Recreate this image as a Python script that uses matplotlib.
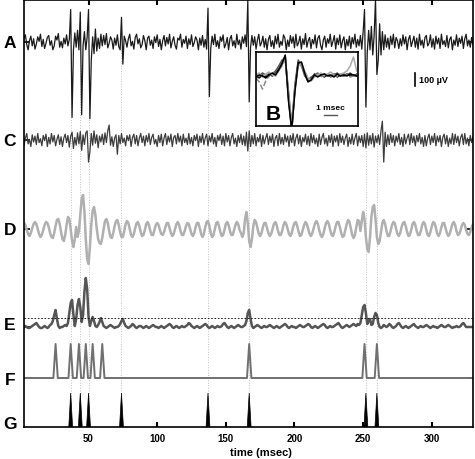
import numpy as np
import matplotlib.pyplot as plt

plt.rcParams['font.family'] = ['Liberation Sans', 'DejaVu Sans']

# raw trace A (uV), 1 ms samples from t = 1 to 330 msec
a_uv = [15, -40, 30, 55, -20, -60, 10, 45, -30, 25,
        -55, -15, 40, 5, 60, -35, 20, -50, -10, 35,
        50, -25, 10, -60, -30, 45, 15, 65, -40, 5,
        -45, 30, -15, 55, -30, 20, 250, -580, -60, 70,
        -40, 90, -60, 230, -560, -30, 80, -60, 40, 250,
        -590, -140, 40, -90, 100, -70, 30, -50, 60, -30,
        50, -20, 65, -45, -10, 40, 15, -55, 30, -25,
        55, -35, -60, 190, -170, 45, 10, -40, 25, 60,
        -30, 5, -55, 35, 60, -15, 25, -45, -20, 50,
        10, -60, 30, 45, -25, 15, -50, 40, -5, 55,
        -35, 20, -60, 10, 50, -30, 35, -15, 60, -45,
        5, 40, -25, -55, 30, 15, 60, -40, 20, -10,
        45, -50, 25, -20, 55, -35, -5, 40, 15, -60,
        30, -25, 50, -40, 20, -55, 260, -420, -50, 45,
        -20, 60, -35, 10, -50, 40, 5, 55, -45, -15,
        35, -60, 25, 50, -30, 10, -45, 60, -20, 15,
        -55, 40, -10, 55, -35, 320, -460, -40, 50, -25,
        40, -55, 15, 60, -30, -5, 45, -40, 25, -60,
        20, 50, -35, 10, -50, 45, -15, 60, -40, 5,
        -25, 55, 30, -60, 15, -35, 50, -10, 40, -45,
        60, -30, -5, 45, -55, 25, -20, 65, -40, 10,
        35, -50, 20, -15, 55, -45, 30, 50, -25, -60,
        15, 45, -40, 25, -10, 60, -35, 5, 50, -55,
        30, -20, 55, -45, 10, 40, -60, 20, -30, 45,
        -50, 35, -15, 60, -40, 20, -30, 50, -55, 80,
        250, -500, -80, 90, -60, 120, -100, 50, 330, -250,
        -140, 140, -100, 80, -60, 55, -40, 30, -55, 45,
        -20, 60, -45, 35, 10, -50, 25, -30, 55, -15,
        40, -60, 20, 50, -35, 5, 45, -40, 30, -55,
        60, -25, 15, -45, 35, 50, -30, -10, 55, -40,
        25, -55, 45, -15, 30, -50, 60, -20, 10, -35,
        50, -45, 20, 40, -60, 15, -25, 55, -35, 30,
        -10, 45, -50, 25, 60, -30, 15, -40, 35, -20]

# filtered trace C (uV)
c_uv = [-20, 35, -45, 15, 50, -30, 5, -50, 40, -15,
        30, -35, 50, -20, 10, -45, 35, -5, 45, -50,
        20, -30, 50, -15, 35, -45, 5, 40, -35, 25,
        -50, 15, 45, -20, 35, -55, 30, 60, -65, 20,
        -40, 55, -30, 65, -80, 40, -35, 55, 70, -170,
        -90, 50, -40, 70, -25, 40, -60, 30, -15, 45,
        -35, 55, -20, 70, 115, -40, 25, -50, 15, 40,
        -110, 35, -30, 50, -20, 15, -45, 35, -5, 40,
        -50, 20, 45, -30, 35, -45, 15, 50, -20, 30,
        -45, 35, -15, 50, -35, 20, 45, -30, 5, -50,
        35, -20, 45, -45, 15, 50, -35, 30, -15, 45,
        -50, 20, 35, -30, 50, -15, 30, -45, 45, -20,
        15, -35, 50, -30, 20, -45, 35, -5, 45, -50,
        30, -20, 50, -35, 15, 45, -45, 30, -15, 50,
        -30, 20, -50, 35, -5, 45, -35, 30, -45, 50,
        -15, 35, -45, 20, 50, -30, 15, -50, 35, -20,
        45, -35, 30, -45, 60, -85, 70, -50, 35, -30,
        50, -45, 20, -15, 45, -50, 35, -30, 15, 50,
        -35, 30, -20, 45, -50, 15, 35, -45, 50, -30,
        20, -35, 45, -15, 30, -50, 35, -20, 50, -45,
        15, 45, -30, 35, -50, 20, -15, 45, -35, 30,
        -45, 50, -20, 35, -30, 15, -50, 45, -35, 20,
        50, -30, 15, -45, 35, -20, 45, -50, 30, -15,
        35, -45, 50, -20, 30, -35, 15, 45, -50, 20,
        -30, 45, -35, 15, 50, -45, 30, -20, 35, -50,
        45, -60, 55, -40, 35, -30, 50, -55, 30, -20,
        40, -35, 70, 145, -170, 60, -50, 40, -35, 50,
        -20, 35, -45, 30, -15, 50, -35, 20, -50, 45,
        -30, 15, 45, -35, 50, -20, 30, -45, 35, -15,
        50, -30, 20, -50, 35, -45, 15, 45, -35, 30,
        -20, 50, -45, 30, -15, 35, -50, 20, 45, -30,
        35, -50, 15, -30, 50, -35, 45, -20, 30, -45,
        20, 45, -35, 50, -30, 15, -45, 35, -20, 30]

# band-pass output D (a.u.)
d_trace = [-2, 3, 6, 4, -1, -5, -7, -4, 1, 5,
           7, 5, 0, -5, -8, -6, -1, 4, 7, 6,
           2, -4, -8, -9, -4, 3, 9, 10, 5, -3,
           -10, -12, -6, 4, 12, 10, 0, -12, -18, -10,
           2, -8, -2, 14, 30, 34, 18, -10, -30, -35,
           -18, 4, 18, 22, 14, 0, -10, -14, -15, -9,
           0, 8, 10, 6, -2, -8, -9, -4, 3, 8,
           9, 4, -3, -8, -8, -2, 5, 8, 6, 0,
           -6, -8, -5, 1, 6, 7, 3, -3, -7, -6,
           -1, 5, 7, 4, -2, -6, -6, -1, 4, 6,
           4, -1, -5, -6, -3, 2, 6, 6, 1, -4,
           -7, -5, 0, 5, 7, 4, -2, -6, -6, -2,
           3, 6, 5, 0, -5, -7, -4, 2, 6, 6,
           1, -5, -8, -5, 2, 7, 8, 3, -4, -8,
           -6, 0, 6, 7, 3, -3, -7, -6, -1, 5,
           7, 4, -2, -6, -6, -1, 4, 7, 5, -1,
           -4, -8, -4, 10, 17, 6, -12, -18, -10, 3,
           9, 7, 1, -5, -7, -4, 2, 6, 6, 1,
           -4, -7, -5, 0, 5, 7, 4, -2, -6, -6,
           -2, 4, 7, 5, 0, -5, -7, -4, 2, 6,
           7, 3, -3, -7, -6, -1, 4, 7, 5, 0,
           -5, -7, -4, 1, 6, 8, 5, -1, -6, -8,
           -5, 1, 6, 8, 5, -1, -6, -7, -3, 3,
           7, 7, 2, -4, -8, -7, -1, 5, 9, 7,
           1, -6, -9, -6, 2, 9, 8, -2, 8, 17,
           10, -8, -20, -23, -8, 12, 22, 24, 10, -8,
           -15, -12, -3, 6, 9, 5, -2, -7, -7, -2,
           4, 7, 6, 0, -5, -7, -4, 2, 6, 7,
           3, -3, -7, -6, -1, 5, 7, 4, -2, -6,
           -6, -2, 4, 7, 5, -1, -6, -7, -3, 3,
           7, 6, 1, -5, -7, -4, 2, 6, 6, 1,
           -4, -7, -5, 0, 5, 7, 4, -2, -6, -5,
           -1, 4, 6, 4, -1, -5, -6, -3, 2, 5]

# energy trace E (a.u.) and its threshold
e_trace = [0, -1, 0, 1, 0, -1, -1, 0, 1, 2,
           3, 4, 2, 0, -1, -1, 0, 1, 0, -1,
           0, 2, 3, 6, 12, 17, 8, 1, -1, 0,
           0, 1, 2, 1, 4, 14, 24, 27, 12, 1,
           8, 22, 28, 20, 5, 12, 35, 49, 38, 10,
           1, 6, 10, 6, 1, 0, 2, 5, 9, 5,
           1, 0, -1, 0, 1, 2, 1, 0, -1, 0,
           0, 1, 3, 6, 8, 4, 1, 0, -1, 0,
           1, 3, 2, 0, -1, 0, 1, 1, 0, -1,
           0, 1, 0, -1, 0, 1, 2, 1, 0, 0,
           -1, 0, 1, 0, -1, 0, 1, 2, 3, 2,
           0, -1, 0, 1, 0, -1, 0, 1, 0, 0,
           1, 2, 4, 3, 1, 0, -1, 0, 1, 0,
           -1, 0, 1, 2, 3, 2, 0, -1, 0, 1,
           0, -1, 0, 1, 0, 0, 1, 3, 4, 2,
           0, -1, 0, 1, 0, -1, 0, 1, 2, 1,
           0, 0, 1, 2, 6, 14, 17, 8, 1, -1,
           0, 1, 2, 1, 0, -1, 0, 1, 0, 0,
           1, 2, 1, 0, -1, 0, 1, 0, -1, 0,
           1, 2, 3, 2, 0, -1, 0, 1, 0, 0,
           -1, 0, 1, 2, 1, 0, 0, 1, 2, 3,
           2, 0, -1, 0, 1, 0, -1, 0, 1, 2,
           3, 2, 0, -1, 0, 1, 0, 0, 1, 2,
           3, 4, 2, 0, -1, 0, 1, 2, 1, 0,
           1, 2, 3, 2, 1, 3, 2, 4, 12, 20,
           22, 14, 3, 6, 8, 2, 3, 10, 14, 12,
           4, 0, -1, 0, 2, 1, 0, 1, 3, 2,
           0, -1, 0, 1, 3, 4, 2, 0, -1, 0,
           1, 0, -1, 0, 1, 2, 3, 1, 0, -1,
           0, 1, 0, 0, 1, 2, 1, 0, -1, 0,
           1, 0, 0, -1, 0, 1, 2, 1, 0, 0,
           1, 2, 1, 0, -1, 0, 0, 1, 0, 0,
           1, 3, 4, 2, 0, 0, 0, 0, 0, 0]
e_threshold = 9

# detected events (msec)
f_times = [26, 37, 43, 48, 53, 60, 167, 251, 260]
g_times = [37, 44, 50, 74, 137, 167, 252, 260]
pulse_height = 34

# inset B: overlaid spike waveforms, 0.25 ms samples
b_waves = [
    [50, 48, 51, 49, 52, 50, 53, 57, 63, 70, 28, -5, 38, 64, 62, 52,
     45, 47, 52, 50, 52, 49, 51, 50, 52, 49, 51, 50, 52, 50, 51, 50],
    [52, 50, 53, 51, 50, 52, 55, 60, 66, 68, 35, 0, 42, 66, 60, 50,
     46, 49, 51, 53, 50, 52, 51, 49, 51, 53, 50, 52, 51, 53, 50, 52],
    [48, 44, 37, 45, 50, 53, 52, 56, 60, 66, 32, 3, 40, 62, 60, 54,
     47, 46, 50, 52, 49, 51, 53, 50, 49, 51, 52, 50, 51, 49, 50, 51],
    [51, 53, 49, 52, 54, 51, 50, 55, 61, 67, 30, -2, 36, 60, 63, 55,
     48, 45, 49, 51, 53, 50, 52, 54, 51, 50, 52, 53, 55, 60, 69, 55],
    [49, 51, 50, 48, 51, 53, 51, 56, 62, 71, 25, -4, 35, 63, 64, 53,
     44, 46, 51, 49, 51, 52, 50, 51, 49, 52, 50, 51, 50, 52, 51, 50],
]
b_colors = ['#111111', '#555555', '#888888', '#aaaaaa', '#000000']
b_styles = ['-', '-', '--', '-', '-']

t = np.arange(1, len(a_uv) + 1)
uv = 0.13  # vertical scale: px per uV
base = {'A': 385, 'C': 287, 'D': 198, 'E': 100, 'F': 49, 'G': 0}

fig = plt.figure(figsize=(4.75, 4.6), dpi=100)
ax = fig.add_axes([24 / 475, 32 / 460, 449 / 475, 427 / 460])

ax.vlines(g_times, 0, base['A'] - 8, colors='#c0c0c0', linestyles=':', lw=0.7, zorder=0)

ax.plot(t, base['A'] + np.array(a_uv) * uv, color='#1a1a1a', lw=0.9)
ax.plot(t, base['C'] + np.array(c_uv) * uv, color='#3c3c3c', lw=0.9)
ax.plot(t, base['D'] + np.array(d_trace), color='#b0b0b0', lw=1.8)
ax.plot(t, base['E'] + np.array(e_trace), color='#555555', lw=1.8)
ax.axhline(base['E'] + e_threshold, color='black', ls=(0, (2, 2)), lw=0.6)

# F: pulse train line
fx, fy = [t[0]], [base['F']]
for s in f_times:
    fx += [s - 1.6, s, s + 1.6]
    fy += [base['F'], base['F'] + pulse_height, base['F']]
fx.append(t[-1])
fy.append(base['F'])
ax.plot(fx, fy, color='#707070', lw=1.4)

# G: filled pulses on the axis
for s in g_times:
    ax.fill([s - 1.4, s, s + 1.4], [0, pulse_height, 0], color='black', lw=0.5)

# scale bar 100 uV
ax.plot([287.5, 287.5], [341, 341 + 100 * uv], color='black', lw=1.2)
ax.text(290.5, 347.5, '100 µV', fontsize=6.5, fontweight='bold', va='center')

ax.set_xlim(3, 330)
ax.set_ylim(0, 427)
ax.set_xticks([50, 100, 150, 200, 250, 300])
ax.set_yticks(list(base.values())[:-1])
ax.set_yticklabels([])
ax.tick_params(axis='x', direction='in', top=True, length=3.5, width=1.5, pad=4, labelsize=7)
ax.tick_params(axis='y', direction='in', right=True, length=4, width=1.2)
for lab in ax.get_xticklabels():
    lab.set_fontweight('bold')
for sp in ax.spines.values():
    sp.set_linewidth(1.2)

fig.text(261 / 475, 1 - 453 / 460, 'time (msec)', fontsize=8, fontweight='bold', ha='center', va='center')
for lab, ypx in [('A', 44), ('C', 141), ('D', 231), ('E', 326), ('F', 381), ('G', 425)]:
    fig.text(10 / 475, 1 - ypx / 460, lab, fontsize=12.5, fontweight='bold', ha='center', va='center')

# inset B
axb = fig.add_axes([256 / 475, 1 - 127 / 460, 102 / 475, 74 / 460])
tb = np.arange(len(b_waves[0])) * 0.25
for w, c, ls in zip(b_waves, b_colors, b_styles):
    axb.plot(tb, w, color=c, ls=ls, lw=1.1)
axb.plot([5.23, 6.23], [11, 11], color='#555555', lw=1)
axb.text(5.7, 18, '1 msec', fontsize=6, fontweight='bold', ha='center', va='center')
axb.text(1.35, 12, 'B', fontsize=15, fontweight='bold', ha='center', va='center')
axb.set_xlim(0, 7.85)
axb.set_ylim(0, 74)
axb.set_xticks([])
axb.set_yticks([])
for sp in axb.spines.values():
    sp.set_linewidth(1.2)

plt.savefig('out.png', dpi=100)
